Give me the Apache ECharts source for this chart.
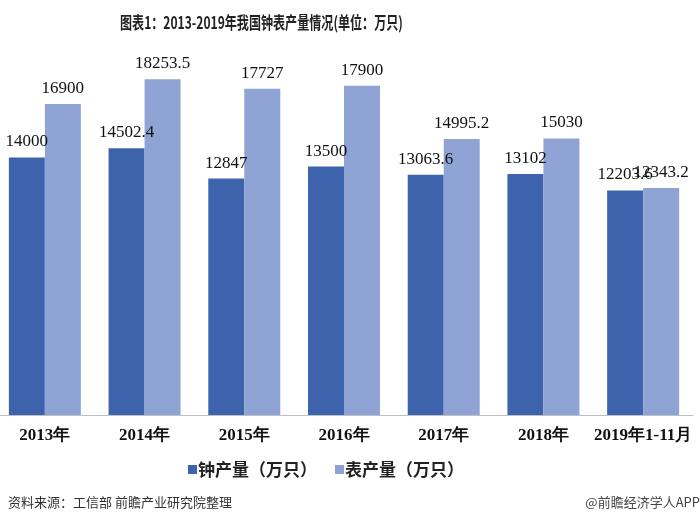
<!DOCTYPE html>
<html>
<head>
<meta charset="utf-8">
<script src="https://cdn.jsdelivr.net/npm/echarts@6/dist/echarts.min.js"></script>
<style>
  html, body { margin: 0; padding: 0; background: #fff; overflow: hidden; }
  /* 画布向左偏移5px，让第一组柱子贴近左边缘 */
  #chart { position: relative; left: -5px; width: 705px; height: 524px; }
</style>
</head>
<body>
<div id="chart"></div>
<script>
// 年份（横轴）
const years = ['2013年', '2014年', '2015年', '2016年', '2017年', '2018年', '2019年1-11月'];
// 钟产量（万只）
const clockOutput = [14000, 14502.4, 12847, 13500, 13063.6, 13102, 12203.6];
// 表产量（万只）
const watchOutput = [16900, 18253.5, 17727, 17900, 14995.2, 15030, 12343.2];

const chart = echarts.init(document.getElementById('chart'));
const dx = 5; // 画布偏移量

const labelStyle = {
  show: true,
  position: 'top',
  distance: 7,
  color: '#111',
  fontFamily: 'Liberation Serif, serif',
  fontSize: 17
};

const option = {
  animation: false,
  graphic: [
    {
      // 标题字体较窄，用scaleX压缩
      type: 'text',
      left: 120 + dx,
      top: 14,
      scaleX: 0.71,
      style: {
        text: '图表1：2013-2019年我国钟表产量情况(单位：万只)',
        font: 'bold 17px "Noto Sans CJK SC"',
        fill: '#222'
      }
    }
  ],
  title: [
    {
      text: '资料来源：工信部 前瞻产业研究院整理',
      left: 3 + dx,
      top: 491,
      textStyle: { fontFamily: 'Noto Sans CJK SC', fontWeight: 'normal', fontSize: 13, color: '#333' }
    },
    {
      text: '@前瞻经济学人APP',
      right: -5,
      top: 491,
      textStyle: { fontFamily: 'Noto Sans CJK SC', fontWeight: 'normal', fontSize: 13, color: '#444' }
    }
  ],
  legend: {
    left: 183 + dx,
    top: 456,
    itemWidth: 9,
    itemHeight: 9,
    itemGap: 18,
    icon: 'rect',
    textStyle: { fontFamily: 'Noto Sans CJK SC', fontWeight: 'bold', fontSize: 17, color: '#222', padding: [0, 0, 0, -4] },
    data: ['钟产量（万只）', '表产量（万只）']
  },
  grid: { left: 0, right: 7, top: 47, bottom: 109, containLabel: false },
  xAxis: {
    type: 'category',
    data: years,
    axisLine: { lineStyle: { color: '#bfbfbf', width: 1 } },
    axisTick: { show: false },
    axisLabel: {
      margin: 12,
      color: '#111',
      fontFamily: 'Liberation Serif, serif',
      fontWeight: 'bold',
      fontSize: 17,
      interval: 0
    }
  },
  yAxis: {
    type: 'value',
    min: 0,
    max: 20000,
    show: false,
    splitLine: { show: false }
  },
  series: [
    {
      name: '钟产量（万只）',
      type: 'bar',
      data: clockOutput,
      barWidth: 36,
      barGap: '0%',
      itemStyle: { color: '#3d63ac' },
      label: labelStyle
    },
    {
      name: '表产量（万只）',
      type: 'bar',
      data: watchOutput,
      barWidth: 36,
      barGap: '0%',
      itemStyle: { color: '#8fa4d5' },
      label: labelStyle
    }
  ]
};

chart.setOption(option);
</script>
</body>
</html>
